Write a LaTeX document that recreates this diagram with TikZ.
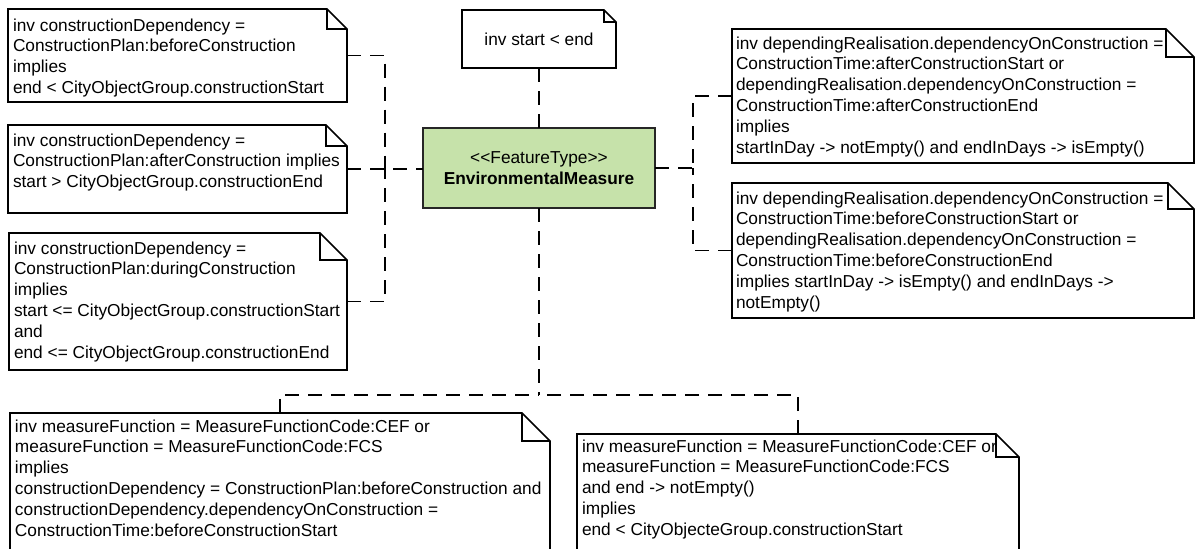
\documentclass[tikz,border=0pt]{standalone}
\usepackage{fontspec}
\setmainfont{Liberation Sans}
\definecolor{featgreen}{RGB}{198,226,170}
\newcommand\notefont{\fontsize{17.3}{20.8}\selectfont}
% UML note outline with a folded top-right corner
\newcommand\drawnote[2]{%
  \draw[noteline] (#1.north west) -- ([shift={(-#2,0)}]#1.north east)
    -- ([shift={(0,#2)}]#1.north east) -- (#1.south east) -- (#1.south west) -- cycle;
  \draw[noteline, fill=none] ([shift={(-#2,0)}]#1.north east) |- ([shift={(0,#2)}]#1.north east);
}
\begin{document}
\begin{tikzpicture}[x=1pt,y=-1pt,
  every node/.style={inner sep=0pt, outer sep=0pt},
  notebox/.style 2 args={rectangle, minimum width=#1pt, minimum height=#2pt, anchor=north west},
  noteline/.style={draw=black, line width=1.6pt, fill=white, line join=miter},
  notetext/.style={anchor=north west, align=left, font=\notefont, text=black},
  classbox/.style={rectangle, draw=black!85, line width=1.6pt, fill=featgreen,
    minimum width=232pt, minimum height=80pt, anchor=north west, align=center,
    font=\notefont},
  conn/.style={draw=black, line width=1.7pt, dash pattern=on 14pt off 9pt}]
\useasboundingbox (0,0) rectangle (1195,549);
\clip (0,0) rectangle (1195,549);

% note frames
\node[notebox={339}{93}]  (n1) at (8,9) {};
\node[notebox={339}{88}]  (n2) at (8,125) {};
\node[notebox={338}{137}] (n3) at (9,233) {};
\node[notebox={154}{58}]  (n0) at (462,10) {};
\node[notebox={462}{134}] (n4) at (732,29) {};
\node[notebox={462}{135}] (n5) at (732,183) {};
\node[notebox={540}{139}] (n6) at (10,413) {};
\node[notebox={442}{118}] (n7) at (577,434) {};

% feature type class
\node[classbox] (cls) at (423,128) {<\kern0pt<FeatureType>\kern0pt>\\\textbf{EnvironmentalMeasure}};

% junctions of the dashed connectors
\coordinate (jl) at (385,169);
\coordinate (jr) at (693,168);
\coordinate (jb) at (539,395);

% dashed note connectors
\draw[conn] (n2.east) -- (n2.east -| cls.west);
\draw[conn] (n1.east) -| (jl);
\draw[conn] (n3.east) -| (jl);
\draw[conn] (n0.south) -- (cls.north);
\draw[conn] (cls.east) -- (jr);
\draw[conn] (n4.west) -| (jr);
\draw[conn] (n5.west) -| (jr);
\draw[conn] (cls.south) -- (jb);
\draw[conn] (n6.north) |- (jb);
\draw[conn] (n7.north) |- (jb);

% note outlines
\drawnote{n1}{20}
\drawnote{n2}{21}
\drawnote{n3}{27}
\drawnote{n0}{12}
\drawnote{n4}{28}
\drawnote{n5}{26}
\drawnote{n6}{28}
\drawnote{n7}{23}

% note texts
\node[notetext] (n1t) at ([shift={(5,9.5)}]n1.north west)
  {inv constructionDependency =\\ConstructionPlan:beforeConstruction\\implies\\end < CityObjectGroup.constructionStart};
\node[notetext] (n2t) at ([shift={(5,8.5)}]n2.north west)
  {inv constructionDependency =\\ConstructionPlan:afterConstruction implies\\start > CityObjectGroup.constructionEnd};
\node[notetext] (n3t) at ([shift={(5,8.5)}]n3.north west)
  {inv constructionDependency =\\ConstructionPlan:duringConstruction\\implies\\start <= CityObjectGroup.constructionStart\\and\\end <= CityObjectGroup.constructionEnd};
\node[font=\notefont] (n0t) at (n0.center) {inv start < end};
\node[notetext] (n4t) at ([shift={(4,7.5)}]n4.north west)
  {inv dependingRealisation.dependencyOnConstruction =\\ConstructionTime:afterConstructionStart or\\dependingRealisation.dependencyOnConstruction =\\ConstructionTime:afterConstructionEnd\\implies\\startInDay -> notEmpty() and endInDays -> isEmpty()};
\node[notetext] (n5t) at ([shift={(4,8.5)}]n5.north west)
  {inv dependingRealisation.dependencyOnConstruction =\\ConstructionTime:beforeConstructionStart or\\dependingRealisation.dependencyOnConstruction =\\ConstructionTime:beforeConstructionEnd\\implies startInDay -> isEmpty() and endInDays ->\\notEmpty()};
\node[notetext] (n6t) at ([shift={(5,6.5)}]n6.north west)
  {inv measureFunction = MeasureFunctionCode:CEF or\\measureFunction = MeasureFunctionCode:FCS\\implies\\constructionDependency = ConstructionPlan:beforeConstruction and\\constructionDependency.dependencyOnConstruction =\\ConstructionTime:beforeConstructionStart};
\node[notetext] (n7t) at ([shift={(5,5.5)}]n7.north west)
  {inv measureFunction = MeasureFunctionCode:CEF or\\measureFunction = MeasureFunctionCode:FCS\\and end -> notEmpty()\\implies\\end < CityObjecteGroup.constructionStart};
\end{tikzpicture}
\end{document}
